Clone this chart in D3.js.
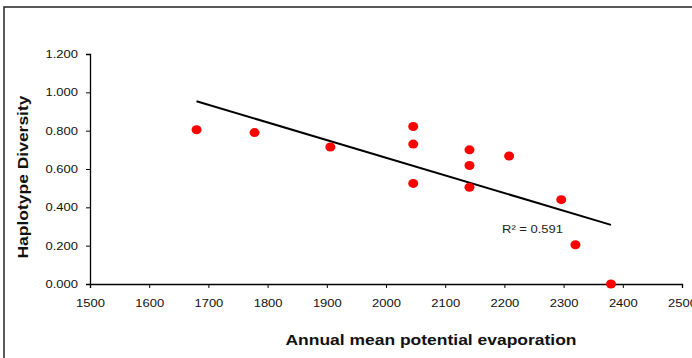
<!DOCTYPE html>
<html>
<head>
<meta charset="utf-8">
<script src="https://cdn.jsdelivr.net/npm/d3@7"></script>
<style>
  body { margin: 0; background: #fff; }
  svg { display: block; font-family: "Liberation Sans", Arial, sans-serif; }
</style>
</head>
<body>
<svg id="chart" width="692" height="358"></svg>
<script>
// evaporation (x) and haplotype diversity (y)
const evaporation = [1680, 1778, 1906, 2046, 2046, 2046, 2141, 2141, 2141, 2208, 2296, 2320, 2380];
const diversity   = [0.805, 0.790, 0.715, 0.822, 0.730, 0.525, 0.700, 0.618, 0.505, 0.668, 0.440, 0.205, 0.000];
const xTicks = [1500, 1600, 1700, 1800, 1900, 2000, 2100, 2200, 2300, 2400, 2500];
const yTicks = [0, 0.2, 0.4, 0.6, 0.8, 1.0, 1.2];
const r2Label = "R² = 0.591";

const svg = d3.select("#chart");

// outer frame, runs off the right and bottom edges
svg.append("rect")
  .attr("x", 4).attr("y", 7)
  .attr("width", 720).attr("height", 400)
  .attr("fill", "none")
  .attr("stroke", "#222")
  .attr("stroke-width", 1.5);

const x = d3.scaleLinear().domain([1500, 2500]).range([90, 682]);
const y = d3.scaleLinear().domain([0, 1.2]).range([284, 54]);

// axes
const xAxis = svg.append("g")
  .attr("transform", "translate(0," + y(0) + ")")
  .call(d3.axisBottom(x).tickValues(xTicks).tickSize(4).tickPadding(11).tickFormat(d3.format("d")));
const yAxis = svg.append("g")
  .attr("transform", "translate(" + x(1500) + ",0)")
  .call(d3.axisLeft(y).tickValues(yTicks).tickSize(4).tickPadding(8).tickFormat(d3.format(".3f")));

[xAxis, yAxis].forEach(function(g) {
  g.select(".domain").attr("stroke", "#000").attr("stroke-width", 1.3);
  g.selectAll(".tick line").attr("stroke", "#000").attr("stroke-width", 1);
  g.selectAll(".tick text")
    .attr("fill", "#111")
    .attr("transform", "scale(1.18,1)")
    .style("font-size", "11px")
    .style("font-family", "Liberation Sans, Arial, sans-serif");
});
// keep the stretched labels centred on their ticks
xAxis.selectAll(".tick text").attr("x", 0);
yAxis.selectAll(".tick text").attr("x", -12 / 1.18);

// linear trendline (least squares)
const n = evaporation.length;
const mx = d3.mean(evaporation), my = d3.mean(diversity);
let sxy = 0, sxx = 0;
for (let i = 0; i < n; i++) {
  sxy += (evaporation[i] - mx) * (diversity[i] - my);
  sxx += (evaporation[i] - mx) * (evaporation[i] - mx);
}
const slope = sxy / sxx;
const icpt = my - slope * mx;
const xMin = d3.min(evaporation), xMax = d3.max(evaporation);
svg.append("line")
  .attr("x1", x(xMin)).attr("y1", y(icpt + slope * xMin))
  .attr("x2", x(xMax)).attr("y2", y(icpt + slope * xMax))
  .attr("stroke", "#000")
  .attr("stroke-width", 2);

// points
svg.selectAll("ellipse.pt")
  .data(evaporation.map((v, i) => [v, diversity[i]]))
  .enter()
  .append("ellipse")
  .attr("class", "pt")
  .attr("cx", d => x(d[0]))
  .attr("cy", d => y(d[1]))
  .attr("rx", 5)
  .attr("ry", 4.5)
  .attr("fill", "#ff0000");

// R² label
svg.append("text")
  .attr("x", 502).attr("y", 233)
  .attr("textLength", 61)
  .attr("lengthAdjust", "spacingAndGlyphs")
  .style("font-size", "11.5px")
  .attr("fill", "#222")
  .text(r2Label);

// axis titles
svg.append("text")
  .attr("x", 431).attr("y", 345)
  .attr("text-anchor", "middle")
  .attr("textLength", 291)
  .attr("lengthAdjust", "spacingAndGlyphs")
  .style("font-size", "15px")
  .style("font-weight", "bold")
  .attr("fill", "#111")
  .text("Annual mean potential evaporation");

svg.append("text")
  .attr("transform", "translate(28,177) rotate(-90)")
  .attr("text-anchor", "middle")
  .attr("textLength", 163)
  .attr("lengthAdjust", "spacingAndGlyphs")
  .style("font-size", "14.5px")
  .style("font-weight", "bold")
  .attr("fill", "#111")
  .text("Haplotype Diversity");
</script>
</body>
</html>
